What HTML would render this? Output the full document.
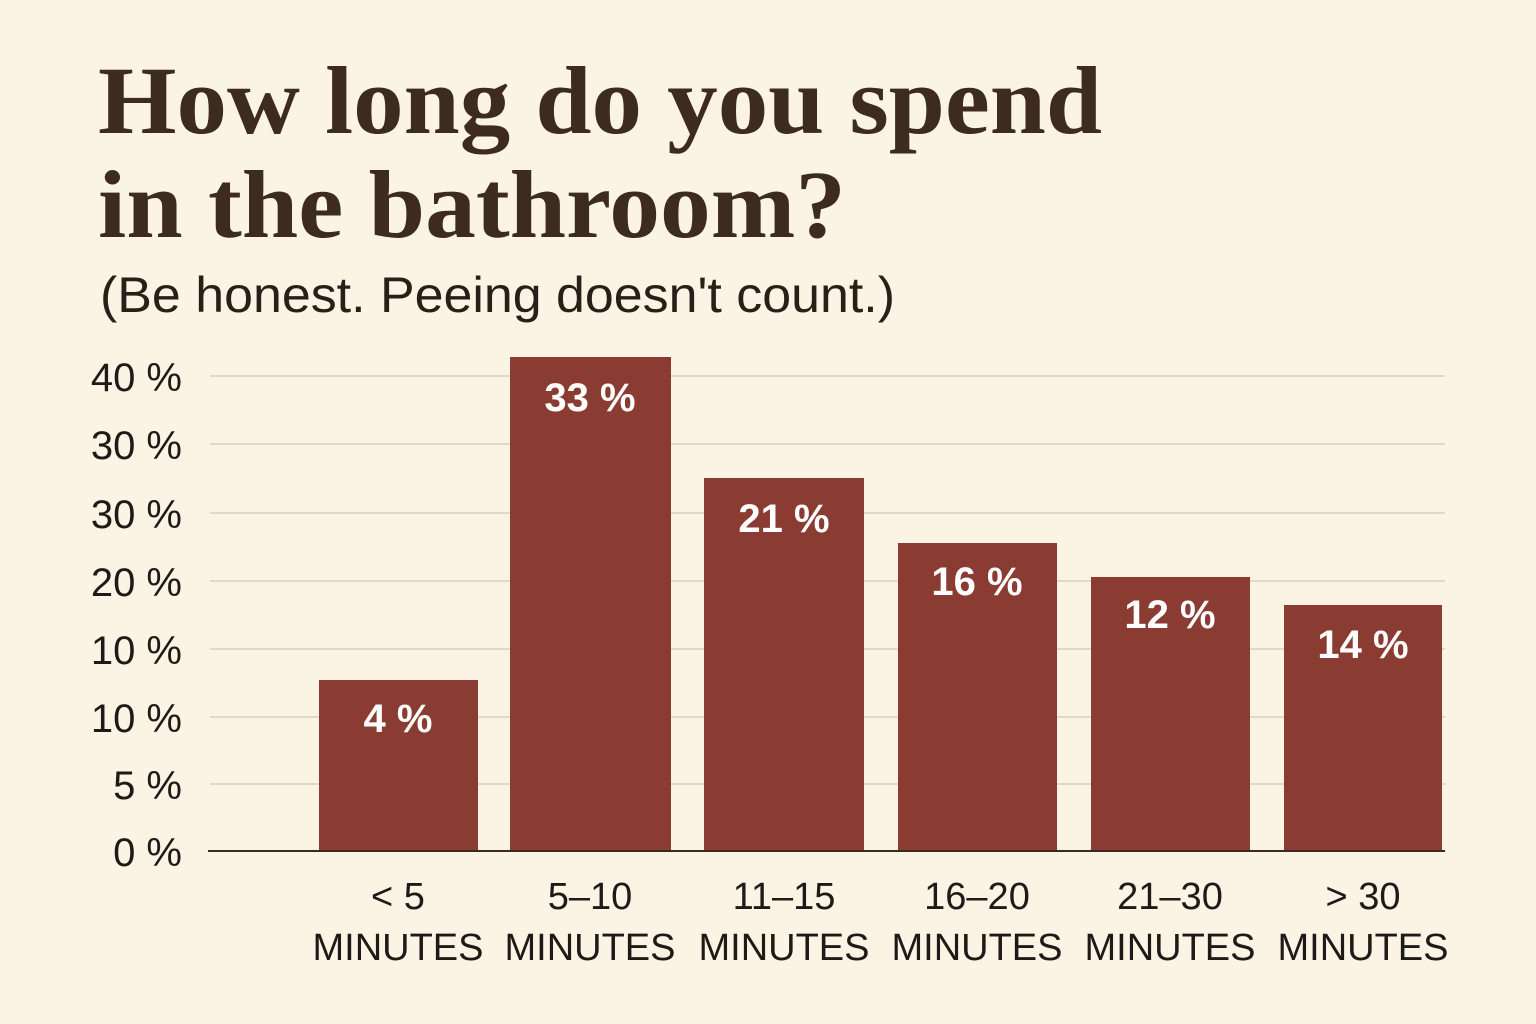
<!DOCTYPE html>
<html><head><meta charset="utf-8"><style>
html,body{margin:0;padding:0;background:#fbf3e4;}
svg{display:block}
</style></head><body>
<svg width="1536" height="1024" viewBox="0 0 1536 1024" xmlns="http://www.w3.org/2000/svg">
<rect width="1536" height="1024" fill="#fbf3e4"/>
<g font-family="'Liberation Serif',serif" font-weight="bold" fill="#3d2b20" font-size="96">
<text x="98" y="133" textLength="1004" lengthAdjust="spacingAndGlyphs">How long do you spend</text>
<text x="98" y="237" textLength="748" lengthAdjust="spacingAndGlyphs">in the bathroom?</text>
</g>
<text x="100" y="312" font-family="'Liberation Sans',sans-serif" font-size="50" fill="#2a1e18" textLength="795" lengthAdjust="spacingAndGlyphs">(Be honest. Peeing doesn't count.)</text>
<g stroke="#d9d0c0" stroke-width="1.5">
<line x1="210" y1="376" x2="1445" y2="376"/>
<line x1="210" y1="444" x2="1445" y2="444"/>
<line x1="210" y1="513" x2="1445" y2="513"/>
<line x1="210" y1="581" x2="1445" y2="581"/>
<line x1="210" y1="649" x2="1445" y2="649"/>
<line x1="210" y1="717" x2="1445" y2="717"/>
<line x1="210" y1="784" x2="1445" y2="784"/>
</g>
<g font-family="'Liberation Sans',sans-serif" font-size="40" fill="#1e1a18" text-anchor="end">
<text x="182" y="391">40 %</text>
<text x="182" y="459">30 %</text>
<text x="182" y="528">30 %</text>
<text x="182" y="596">20 %</text>
<text x="182" y="664">10 %</text>
<text x="182" y="732">10 %</text>
<text x="182" y="799">5 %</text>
<text x="182" y="866">0 %</text>
</g>
<g fill="#8b3c32">
<rect x="319" y="680" width="159" height="171"/>
<rect x="510" y="357" width="161" height="494"/>
<rect x="704" y="478" width="160" height="373"/>
<rect x="898" y="543" width="159" height="308"/>
<rect x="1091" y="577" width="159" height="274"/>
<rect x="1284" y="605" width="158" height="246"/>
</g>
<line x1="208" y1="851" x2="1445" y2="851" stroke="#3a2a22" stroke-width="2"/>
<g font-family="'Liberation Sans',sans-serif" font-size="40" font-weight="bold" fill="#ffffff" text-anchor="middle">
<text x="398" y="732">4 %</text>
<text x="590" y="411">33 %</text>
<text x="784" y="532">21 %</text>
<text x="977" y="595">16 %</text>
<text x="1170" y="628">12 %</text>
<text x="1363" y="658">14 %</text>
</g>
<g font-family="'Liberation Sans',sans-serif" font-size="38" fill="#1e1a18" text-anchor="middle">
<text x="398" y="909">&lt; 5</text><text x="398" y="960">MINUTES</text>
<text x="590" y="909">5–10</text><text x="590" y="960">MINUTES</text>
<text x="784" y="909">11–15</text><text x="784" y="960">MINUTES</text>
<text x="977" y="909">16–20</text><text x="977" y="960">MINUTES</text>
<text x="1170" y="909">21–30</text><text x="1170" y="960">MINUTES</text>
<text x="1363" y="909">&gt; 30</text><text x="1363" y="960">MINUTES</text>
</g>
</svg>
</body></html>
